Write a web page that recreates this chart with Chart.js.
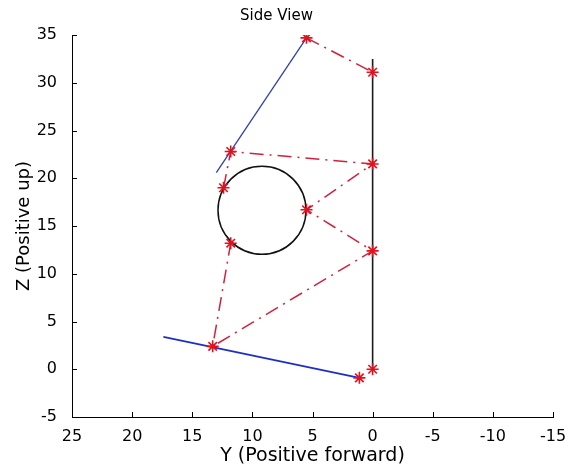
<!DOCTYPE html>
<html>
<head>
<meta charset="utf-8">
<script src="https://cdn.jsdelivr.net/npm/chart.js@4/dist/chart.umd.min.js"></script>
<style>
html,body{margin:0;padding:0;background:#fff;overflow:hidden;}
#wrap{width:573px;height:470px;}
canvas{display:block;}
</style>
</head>
<body>
<div id="wrap"><canvas id="c" width="573" height="470"></canvas></div>
<script>
// ---- data (Y = horizontal, Z = vertical) ----
const xTickValues = [25, 20, 15, 10, 5, 0, -5, -10, -15];
const yTickValues = [-5, 0, 5, 10, 15, 20, 25, 30, 35];

const upperArmY = [13.0, 5.5];
const upperArmZ = [20.6, 34.7];

const lowerArmY = [17.4, 1.1];
const lowerArmZ = [3.4, -0.9];

const mastY = [0, 0];
const mastZ = [0, 32.5];

const topStrutY = [5.5, 0];
const topStrutZ = [34.7, 31.1];

const strutY = [12.4, 11.8, 0, 5.5, 0, 13.3, 11.8];
const strutZ = [19.0, 22.8, 21.5, 16.7, 12.4, 2.4, 13.2];

const jointY = [5.5, 0, 11.8, 0, 12.4, 5.5, 11.8, 0, 13.3, 0, 1.1];
const jointZ = [34.7, 31.1, 22.8, 21.5, 19.0, 16.7, 13.2, 12.4, 2.4, 0, -0.9];

const wheelY = [9.2];
const wheelZ = [16.65];

// ---- helpers ----
const pts = (xs, ys) => xs.map((x, i) => ({x: x, y: ys[i]}));
const FONT = "'DejaVu Sans', 'Liberation Sans', Arial, sans-serif";

const innerTicks = {
  id: 'innerTicks',
  afterDraw(chart) {
    const {ctx, chartArea: a, scales: {x, y}} = chart;
    ctx.save();
    ctx.strokeStyle = '#000';
    ctx.lineWidth = 1;
    ctx.beginPath();
    xTickValues.forEach(v => {
      const px = Math.round(x.getPixelForValue(v)) + 0.5;
      ctx.moveTo(px, a.bottom);
      ctx.lineTo(px, a.bottom - 5);
    });
    yTickValues.forEach(v => {
      const py = Math.round(y.getPixelForValue(v)) + 0.5;
      ctx.moveTo(a.left, py);
      ctx.lineTo(a.left + 5, py);
    });
    ctx.stroke();
    ctx.restore();
  }
};

const lineDs = (data, color, width, dash, order) => ({
  data: data, showLine: true, borderColor: color, borderWidth: width,
  borderDash: dash || [], pointRadius: 0, fill: false, order: order
});

const DASHDOT = [14, 6, 2, 6];

new Chart(document.getElementById('c'), {
  type: 'scatter',
  data: {
    datasets: [
      {
        label: 'joints', data: pts(jointY, jointZ), pointStyle: 'star', pointRadius: 6,
        borderColor: '#e3101e', backgroundColor: '#e3101e', pointBorderWidth: 1.6,
        showLine: false, order: 0
      },
      Object.assign({label: 'strut'}, lineDs(pts(strutY, strutZ), '#d3203c', 1.5, DASHDOT, 1)),
      Object.assign({label: 'topStrut'}, lineDs(pts(topStrutY, topStrutZ), '#d3203c', 1.5, DASHDOT, 1)),
      Object.assign({label: 'upperArm'}, lineDs(pts(upperArmY, upperArmZ), '#3040b0', 1.3, [], 2)),
      Object.assign({label: 'lowerArm'}, lineDs(pts(lowerArmY, lowerArmZ), '#1f2fc4', 1.8, [], 2)),
      Object.assign({label: 'mast'}, lineDs(pts(mastY, mastZ), '#1a1a1a', 1.6, [], 3)),
      {
        label: 'wheel', data: pts(wheelY, wheelZ), pointStyle: 'circle', pointRadius: 44,
        borderColor: '#111', backgroundColor: 'rgba(0,0,0,0)', pointBorderWidth: 1.5,
        showLine: false, order: 3
      }
    ]
  },
  options: {
    responsive: false,
    animation: false,
    events: [],
    layout: {autoPadding: false, padding: {left: 0, right: 20, top: 0, bottom: 0}},
    plugins: {
      legend: {display: false},
      tooltip: {enabled: false},
      title: {
        display: true, text: 'Side View', color: '#000',
        font: {family: FONT, size: 15, weight: 'normal', lineHeight: 1.2},
        padding: {top: 7, bottom: 10}
      }
    },
    scales: {
      x: {
        type: 'linear', reverse: true, min: -15, max: 25,
        afterFit: s => { s.height = 53; s.paddingLeft = 0; s.paddingRight = 0; },
        afterBuildTicks: s => { s.ticks = xTickValues.map(v => ({value: v})); },
        grid: {display: false},
        border: {display: true, color: '#000', width: 1},
        ticks: {color: '#000', font: {family: FONT, size: 16}, padding: 2, maxRotation: 0, autoSkip: false},
        title: {display: true, text: 'Y (Positive forward)', color: '#000',
          font: {family: FONT, size: 19}, padding: {top: 3, bottom: 3}}
      },
      y: {
        type: 'linear', min: -5, max: 35,
        afterFit: s => { s.width = 72; s.paddingTop = 0; s.paddingBottom = 0; },
        afterBuildTicks: s => { s.ticks = yTickValues.map(v => ({value: v})); },
        grid: {display: false},
        border: {display: true, color: '#000', width: 1},
        ticks: {color: '#000', font: {family: FONT, size: 16}, padding: 7, autoSkip: false},
        title: {display: true, text: 'Z (Positive up)', color: '#000',
          font: {family: FONT, size: 18}, padding: {top: 14, bottom: 14}}
      }
    }
  },
  plugins: [innerTicks]
});
</script>
</body>
</html>
